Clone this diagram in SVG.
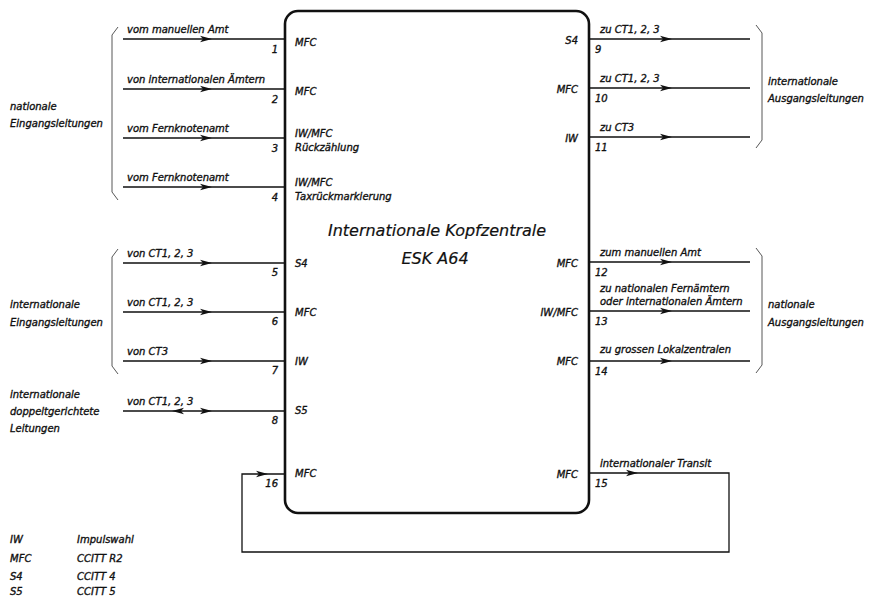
<svg xmlns="http://www.w3.org/2000/svg" width="870" height="597" viewBox="0 0 870 597">
<style>
text{font-family:"DejaVu Sans","Liberation Sans",sans-serif;font-style:italic;font-size:10px;fill:#111;stroke:#111;stroke-width:0.35;}
.r{text-anchor:end;}
.t{font-size:16px;text-anchor:middle;stroke-width:0.2;}
.ln{fill:none;stroke:#111;stroke-width:1.3;}
.br{fill:none;stroke:#444;stroke-width:0.9;}
.box{fill:#fff;stroke:#111;stroke-width:2.6;}
.ah{fill:#111;}
</style>
<defs>
<path id="ar" d="M0,0 L-12,-3.2 L-9,0 L-12,3.2 Z"/>
<path id="al" d="M0,0 L12,-3.2 L9,0 L12,3.2 Z"/>
</defs>
<rect width="870" height="597" fill="#fff"/>
<g id="connectors">
<path class="ln" d="M123,39H285M123,89H285M123,138H285M123,187H285M123,263H285M123,312H285M123,361H285M123,411H285"/>
<path class="ln" d="M589,39H750M589,88H750M589,137H750M589,262H750M589,311H750M589,361H750"/>
<path class="ln" d="M589,473H729V552H242V474H285"/>
<g class="ah">
<use href="#ar" x="212" y="39"/><use href="#ar" x="212" y="89"/><use href="#ar" x="212" y="138"/><use href="#ar" x="212" y="187"/>
<use href="#ar" x="212" y="263"/><use href="#ar" x="212" y="312"/><use href="#ar" x="212" y="361"/><use href="#ar" x="212" y="411"/>
<use href="#al" x="172" y="411"/>
<use href="#ar" x="672" y="39"/><use href="#ar" x="672" y="88"/><use href="#ar" x="672" y="137"/>
<use href="#ar" x="672" y="262"/><use href="#ar" x="672" y="311"/><use href="#ar" x="672" y="361"/>
<use href="#ar" x="638" y="473"/><use href="#ar" x="268" y="474"/>
</g>
</g>
<g id="brackets">
<path class="br" d="M118,27L112,35V192L118,200"/>
<path class="br" d="M118,249L112,257V366L118,374"/>
<path class="br" d="M756,25L762,33V140L756,148"/>
<path class="br" d="M756,248L762,256V365L756,373"/>
</g>
<g id="central">
<rect class="box" x="285" y="11" width="304" height="502" rx="13"/>
<text class="t" x="437" y="236">Internationale Kopfzentrale</text>
<text class="t" x="435" y="264">ESK A64</text>
<text x="295" y="46">MFC</text>
<text x="295" y="95">MFC</text>
<text x="295" y="137">IW/MFC</text>
<text x="295" y="151">Rückzählung</text>
<text x="295" y="186">IW/MFC</text>
<text x="295" y="200">Taxrückmarkierung</text>
<text x="295" y="267">S4</text>
<text x="295" y="316">MFC</text>
<text x="295" y="365">IW</text>
<text x="295" y="414">S5</text>
<text x="295" y="477">MFC</text>
<text class="r" x="578" y="44">S4</text>
<text class="r" x="578" y="93">MFC</text>
<text class="r" x="578" y="142">IW</text>
<text class="r" x="578" y="267">MFC</text>
<text class="r" x="578" y="316">IW/MFC</text>
<text class="r" x="578" y="365">MFC</text>
<text class="r" x="578" y="478">MFC</text>
</g>
<g id="in-labels">
<text x="127" y="33">vom manuellen Amt</text>
<text x="127" y="83">von internationalen Ämtern</text>
<text x="127" y="132">vom Fernknotenamt</text>
<text x="127" y="181">vom Fernknotenamt</text>
<text x="127" y="257">von CT1, 2, 3</text>
<text x="127" y="306">von CT1, 2, 3</text>
<text x="127" y="355">von CT3</text>
<text x="127" y="405">von CT1, 2, 3</text>
<text class="r" x="278" y="53">1</text>
<text class="r" x="278" y="103">2</text>
<text class="r" x="278" y="152">3</text>
<text class="r" x="278" y="201">4</text>
<text class="r" x="278" y="276">5</text>
<text class="r" x="278" y="325">6</text>
<text class="r" x="278" y="374">7</text>
<text class="r" x="278" y="424">8</text>
<text class="r" x="278" y="487">16</text>
</g>
<g id="out-labels">
<text x="600" y="33">zu CT1, 2, 3</text>
<text x="600" y="82">zu CT1, 2, 3</text>
<text x="600" y="131">zu CT3</text>
<text x="600" y="256">zum manuellen Amt</text>
<text x="600" y="292">zu nationalen Fernämtern</text>
<text x="600" y="305">oder internationalen Ämtern</text>
<text x="600" y="353">zu grossen Lokalzentralen</text>
<text x="600" y="467">internationaler Transit</text>
<text x="595" y="53">9</text>
<text x="595" y="102">10</text>
<text x="595" y="151">11</text>
<text x="595" y="276">12</text>
<text x="595" y="325">13</text>
<text x="595" y="375">14</text>
<text x="595" y="487">15</text>
</g>
<g id="groups">
<text x="10" y="110">nationale</text>
<text x="10" y="127">Eingangsleitungen</text>
<text x="10" y="308">internationale</text>
<text x="10" y="326">Eingangsleitungen</text>
<text x="10" y="398">internationale</text>
<text x="10" y="415">doppeltgerichtete</text>
<text x="10" y="432">Leitungen</text>
<text x="768" y="85">internationale</text>
<text x="768" y="102">Ausgangsleitungen</text>
<text x="768" y="308">nationale</text>
<text x="768" y="326">Ausgangsleitungen</text>
</g>
<g id="legend">
<text x="10" y="543">IW</text><text x="77" y="543">Impulswahl</text>
<text x="10" y="562">MFC</text><text x="77" y="562">CCITT R2</text>
<text x="10" y="580">S4</text><text x="77" y="580">CCITT 4</text>
<text x="10" y="595">S5</text><text x="77" y="595">CCITT 5</text>
</g>
</svg>
